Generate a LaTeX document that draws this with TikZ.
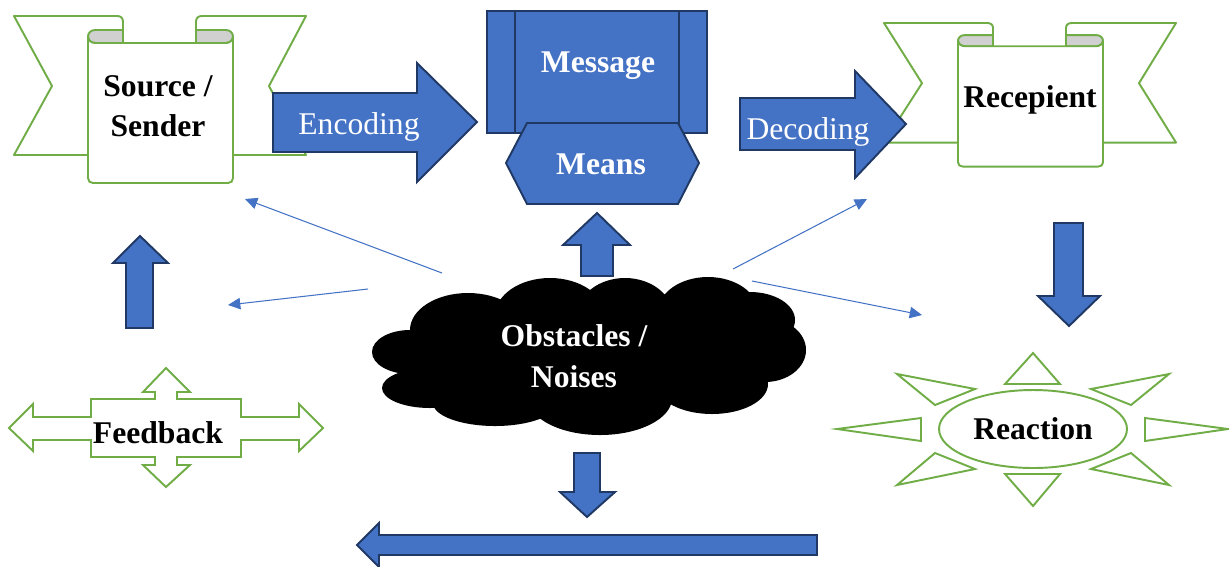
\documentclass[tikz,border=0pt]{standalone}
\usepackage{fontspec}
\setmainfont{Liberation Serif}
\usetikzlibrary{shapes.geometric, arrows.meta}

\definecolor{boxblue}{HTML}{4472C4}
\definecolor{edgeblue}{HTML}{203864}
\definecolor{leafgreen}{HTML}{70AD47}
\definecolor{rollgray}{HTML}{D0D0D0}

\tikzstyle{ribbon} = [draw=leafgreen, line width=1.1pt, fill=white, line join=round]
\tikzstyle{roll} = [ribbon, fill=rollgray]
\tikzstyle{block} = [draw=edgeblue, line width=1.1pt, fill=boxblue, line join=miter]
\tikzstyle{ray} = [draw=leafgreen, line width=1.1pt, fill=white, line join=miter]
\tikzstyle{noisearrow} = [draw=boxblue, line width=0.6pt, -{Triangle[length=7pt, width=6.5pt]}]
\tikzstyle{bigtext} = [font=\fontsize{18}{23}\selectfont\bfseries, align=center, inner sep=0pt]
\tikzstyle{arrowtext} = [font=\fontsize{18}{23}\selectfont, text=white, inner sep=0pt]

\tikzset{
  pics/banner/.style={code={
    % back band
    \draw[ribbon] (74,139) -- (0,139) -- (38,70) -- (0,0) -- (103,0) .. controls (107,0) and (109,2) .. (109,6) -- (109,27);
    \draw[ribbon] (219,139) -- (292,139) -- (255,70) -- (292,0) -- (188,0) .. controls (184,0) and (182,2) .. (182,6) -- (182,27);
    % rolled ends
    \draw[roll] (109,14) -- (81,14) .. controls (77,14) and (74,17) .. (74,20.5) .. controls (74,24) and (77,27) .. (81,27) -- (109,27) -- cycle;
    \draw[roll] (182,14) -- (212,14) .. controls (216,14) and (219,17) .. (219,20.5) .. controls (219,24) and (216,27) .. (212,27) -- (182,27) -- cycle;
    % front panel
    \draw[ribbon] (74,20.5) -- (74,162) .. controls (74,165) and (76,167) .. (79,167) -- (214,167) .. controls (217,167) and (219,165) .. (219,162) -- (219,20.5) .. controls (219,24) and (216,27) .. (212,27) -- (81,27) .. controls (77,27) and (74,24) .. (74,20.5) -- cycle;
  }}
}

\begin{document}
\begin{tikzpicture}[x=0.02cm, y=-0.02cm]
\useasboundingbox (0,0) rectangle (1229,566);

% Sender and receiver
\pic (srcbanner) at (14,16) {banner};
\pic[yscale=0.86] (recbanner) at (884,23) {banner};
\node (source) [bigtext] at (158,106) {Source /\\Sender};
\node (recepient) [bigtext, anchor=base] at (1030,107) {Recepient};

% Encoding / Decoding
\draw[block] (273,93) -- (417,93) -- (417,63) -- (477,122) -- (417,182) -- (417,152) -- (273,152) -- cycle;
\node (encoding) [arrowtext, anchor=base] at (359,134) {Encoding};
\draw[block] (740,98) -- (855,98) -- (855,71) -- (906,124) -- (855,178) -- (855,150) -- (740,150) -- cycle;
\node (decoding) [arrowtext, anchor=base] at (808,139) {Decoding};

% Message and means
\draw[block] (487,11) rectangle (707,133);
\draw[draw=edgeblue, line width=1.1pt] (515,11) -- (515,133) (679,11) -- (679,133);
\node (message) [bigtext, text=white, anchor=base] at (598,72) {Message};
\draw[block] (527,123) -- (678,123) -- (699,163) -- (678,204) -- (527,204) -- (506,163) -- cycle;
\node (means) [bigtext, text=white, anchor=base] at (601,174) {Means};

% Noise (cloud of puffs)
\draw[block] (581,276) -- (581,245) -- (563,245) -- (597,213) -- (630,245) -- (613,245) -- (613,276) -- cycle;
\fill[black] (410,352) ellipse [x radius=38, y radius=22]
  (430,388) ellipse [x radius=48, y radius=20]
  (495,403) ellipse [x radius=62, y radius=23]
  (600,398) ellipse [x radius=72, y radius=37]
  (712,384) ellipse [x radius=56, y radius=30]
  (765,350) ellipse [x radius=41, y radius=32]
  (750,320) ellipse [x radius=45, y radius=28]
  (708,312) ellipse [x radius=50, y radius=35]
  (625,316) ellipse [x radius=48, y radius=38]
  (550,316) ellipse [x radius=55, y radius=38]
  (468,330) ellipse [x radius=58, y radius=37]
  (590,355) ellipse [x radius=175, y radius=50];
\node (noise) [bigtext, text=white] at (574,356) {Obstacles /\\Noises};

\coordinate (noiseA) at (442,273);
\coordinate (srcA) at (245,199);
\coordinate (noiseB) at (368,289);
\coordinate (fbA) at (228,305);
\coordinate (noiseC) at (733,269);
\coordinate (recA) at (867,199);
\coordinate (noiseD) at (752,281);
\coordinate (reaA) at (922,315);
\draw[noisearrow] (noiseA) -- (srcA);
\draw[noisearrow] (noiseB) -- (fbA);
\draw[noisearrow] (noiseC) -- (recA);
\draw[noisearrow] (noiseD) -- (reaA);

% Feedback
\draw[block] (126,328) -- (126,263) -- (113,263) -- (140,236) -- (168,263) -- (153,263) -- (153,328) -- cycle;
\draw[ribbon, line join=miter] (9,428) -- (33,404) -- (33,417) -- (91,417) -- (91,399) -- (155,399) -- (155,392) -- (143,392) -- (166,368) -- (190,392) -- (177,392) -- (177,399) -- (241,399) -- (241,417) -- (299,417) -- (299,404) -- (323,428) -- (299,451) -- (299,440) -- (241,440) -- (241,457) -- (177,457) -- (177,465) -- (190,465) -- (166,487) -- (143,465) -- (155,465) -- (155,457) -- (91,457) -- (91,440) -- (33,440) -- (33,451) -- cycle;
\node (feedback) [bigtext, anchor=base] at (158,443) {Feedback};

% Reaction
\draw[block] (1054,223) -- (1083,223) -- (1083,296) -- (1100,296) -- (1069,326) -- (1038,296) -- (1054,296) -- cycle;
\draw[ray] (1005,384) -- (1033,353) -- (1060,384) -- cycle;
\draw[ray] (1005,474) -- (1033,506) -- (1060,474) -- cycle;
\draw[ray] (921,418) -- (837,429) -- (921,441) -- cycle;
\draw[ray] (1145,418) -- (1228,429) -- (1145,441) -- cycle;
\draw[ray] (897,374) -- (975,389) -- (935,405) -- cycle;
\draw[ray] (1169,374) -- (1091,389) -- (1131,405) -- cycle;
\draw[ray] (897,485) -- (975,469) -- (935,453) -- cycle;
\draw[ray] (1169,485) -- (1091,469) -- (1131,453) -- cycle;
\node (reaction) [ellipse, draw=leafgreen, line width=1.1pt, fill=white, minimum width=3.76cm, minimum height=1.56cm, inner sep=0pt, font=\fontsize{18}{23}\selectfont\bfseries] at (1033,429) {Reaction};

% Back to the sender
\draw[block] (574,453) -- (600,453) -- (600,492) -- (615,492) -- (587,517) -- (560,492) -- (574,492) -- cycle;
\draw[block] (817,535) -- (817,555) -- (379,555) -- (379,567) -- (357,545) -- (379,523) -- (379,535) -- cycle;

\end{tikzpicture}
\end{document}
